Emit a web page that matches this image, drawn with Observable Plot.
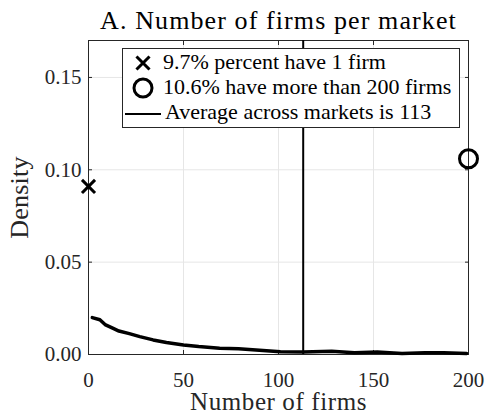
<!DOCTYPE html>
<html><head><meta charset="utf-8">
<script src="https://cdn.jsdelivr.net/npm/d3@7"></script>
<script src="https://cdn.jsdelivr.net/npm/@observablehq/plot@0.6"></script>
<style>body{margin:0;background:#fff}#chart{width:489px;height:414px}</style>
</head><body><div id="chart"></div>
<script>
const title = "A. Number of firms per market";
const xLabel = "Number of firms";
const yLabel = "Density";
const xTicks = [0, 50, 100, 150, 200];
const yTicks = [0, 0.05, 0.10, 0.15];
const legendLabels = ["9.7% percent have 1 firm", "10.6% have more than 200 firms", "Average across markets is 113"];
const firmCounts = [2, 6, 9, 13, 16, 21.5, 27, 34, 41, 50, 58, 69, 79, 90, 101, 113, 128, 140, 152, 165, 177, 187, 199];
const density = [0.0200, 0.0188, 0.0160, 0.0141, 0.0127, 0.0113, 0.0097, 0.0079, 0.0065, 0.0052, 0.0043, 0.0034, 0.0031, 0.0023, 0.0015, 0.0013, 0.0017, 0.0010, 0.0014, 0.0006, 0.0009, 0.0010, 0.0006];
const oneFirmX = [0];
const oneFirmY = [0.091];
const over200X = [200];
const over200Y = [0.106];
const meanFirms = 113;

const curve = firmCounts.map((x, i) => ({x, y: density[i]}));
const oneFirm = oneFirmX.map((x, i) => ({x, y: oneFirmY[i]}));
const over200 = over200X.map((x, i) => ({x, y: over200Y[i]}));
const FONT = "'Liberation Serif', 'Times New Roman', serif";
const AX = "#262626";

const chart = Plot.plot({
  width: 489, height: 414,
  marginLeft: 88, marginRight: 21, marginTop: 40, marginBottom: 60,
  style: {fontFamily: FONT, background: "white", color: AX},
  x: {domain: [0, 200]},
  y: {domain: [0, 0.17]},
  marks: [
    Plot.gridX(xTicks, {stroke: "#e6e6e6", strokeOpacity: 1}),
    Plot.gridY(yTicks, {stroke: "#e6e6e6", strokeOpacity: 1}),
    Plot.frame({stroke: AX}),
    Plot.axisX(xTicks, {anchor: "bottom", tickSize: -4, tickPadding: 22, fontSize: 21, tickFormat: d => String(d), label: null}),
    Plot.axisX(xTicks, {anchor: "top", tickSize: -4, tickFormat: () => "", label: null}),
    Plot.axisY(yTicks, {anchor: "left", tickSize: -4, tickPadding: 11, fontSize: 21, tickFormat: d3.format(".2f"), label: null}),
    Plot.axisY(yTicks, {anchor: "right", tickSize: -4, tickFormat: () => "", label: null}),
    Plot.ruleX([meanFirms], {stroke: "black", strokeWidth: 2}),
    Plot.line(curve, {x: "x", y: "y", stroke: "black", strokeWidth: 3.5}),
    Plot.dot(oneFirm, {x: "x", y: "y", symbol: "times", r: 6, stroke: "black", strokeWidth: 3}),
    Plot.dot(over200, {x: "x", y: "y", symbol: "circle", r: 9, stroke: "black", strokeWidth: 3, fill: "none"}),
    Plot.text([title], {frameAnchor: "top", lineAnchor: "middle", textAnchor: "middle", dy: -20, fontSize: 26, fill: "black"}),
    Plot.text([xLabel], {frameAnchor: "bottom", lineAnchor: "middle", textAnchor: "middle", dy: 47, fontSize: 25, fill: AX}),
    Plot.text([yLabel], {frameAnchor: "left", lineAnchor: "middle", textAnchor: "middle", dx: -69, rotate: -90, fontSize: 26, fill: AX})
  ]
});

const svg = d3.select(chart);
const spacing = {[title]: "1.1px", [xLabel]: "0.6px", [yLabel]: "0.2px"};
svg.selectAll("text").each(function() {
  const t = this.textContent;
  if (spacing[t]) this.setAttribute("letter-spacing", spacing[t]);
});

// legend
const g = svg.append("g").attr("font-family", FONT).attr("font-size", 22).attr("fill", "black").attr("text-anchor", "start");
g.append("rect").attr("x", 122.5).attr("y", 48.5).attr("width", 337).attr("height", 79)
  .attr("fill", "white").attr("stroke", AX).attr("stroke-width", 1);
g.append("path").attr("d", d3.symbol(d3.symbolTimes, Math.PI * 36)()).attr("transform", "translate(143,63)")
  .attr("fill", "none").attr("stroke", "black").attr("stroke-width", 3);
g.append("circle").attr("cx", 143).attr("cy", 88).attr("r", 9).attr("fill", "none").attr("stroke", "black").attr("stroke-width", 3);
g.append("line").attr("x1", 125).attr("x2", 161).attr("y1", 114).attr("y2", 114).attr("stroke", "black").attr("stroke-width", 2);
const rowsY = [69, 94, 119];
const rowsX = [163, 163, 165];
legendLabels.forEach((t, i) => g.append("text").attr("x", rowsX[i]).attr("y", rowsY[i]).text(t));

document.getElementById("chart").appendChild(chart);
</script>
</body></html>
